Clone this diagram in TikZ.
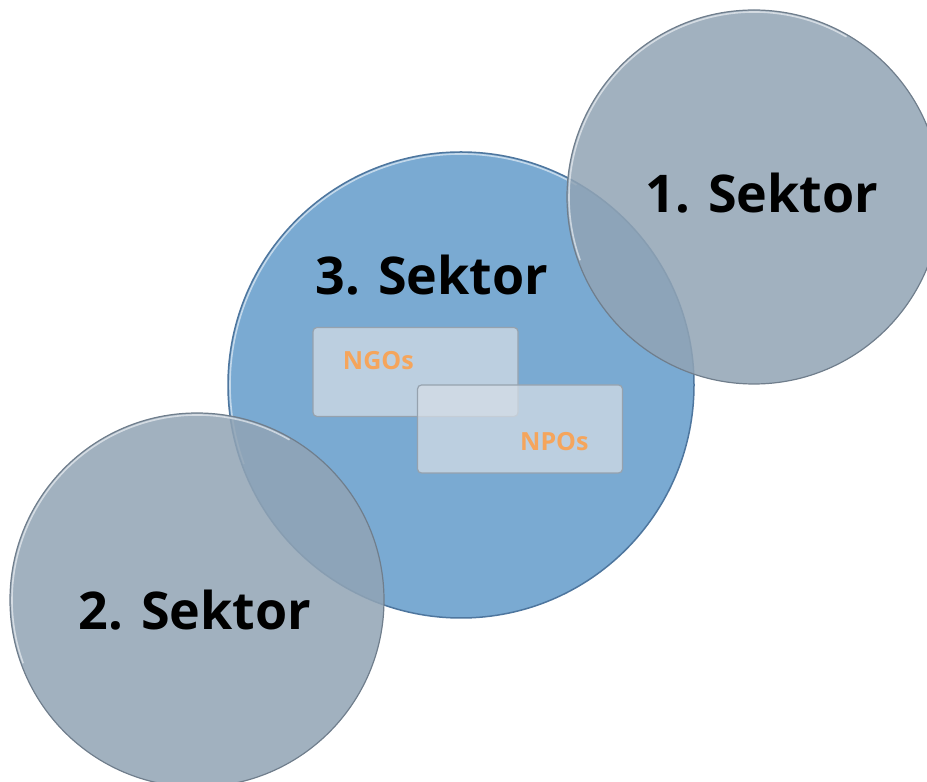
\documentclass[tikz,border=0pt]{standalone}
\usepackage{fontspec}
\setmainfont{Open Sans}
\usetikzlibrary{positioning}

\definecolor{sectorblue}{RGB}{122,170,210}
\definecolor{bluerim}{RGB}{78,118,158}
\definecolor{sectorgray}{RGB}{145,164,181}
\definecolor{grayrim}{RGB}{112,126,140}
\definecolor{boxfill}{RGB}{214,222,230}
\definecolor{boxrim}{RGB}{150,162,174}
\definecolor{orgorange}{RGB}{245,165,92}

\begin{document}
\begin{tikzpicture}[x=1pt,y=1pt,
  sector/.style={circle,inner sep=0pt,minimum size=374pt,fill=sectorgray,fill opacity=0.86,draw=grayrim,line width=1.2pt},
  rimlight/.style={white,opacity=0.55,line width=1.6pt},
  orgbox/.style={rectangle,rounded corners=4pt,minimum width=205pt,minimum height=89pt,fill=boxfill,fill opacity=0.72,draw=boxrim,line width=1.2pt},
  sectorlabel/.style={anchor=base,font=\fontsize{52}{60}\selectfont\bfseries},
  orglabel/.style={text=orgorange,font=\fontsize{25}{30}\selectfont\bfseries}]
\useasboundingbox (0,0) rectangle (927,782);
% third sector
\node[circle,inner sep=0pt,minimum size=466pt,fill=sectorblue,draw=bluerim,line width=1.5pt] (s3) at (461,397) {};
\draw[rimlight] ([shift={(60:231)}]s3.center) arc[start angle=60,end angle=200,radius=231];
\node[orgbox] (ngo) at (415.5,410) {};
\node[orgbox,minimum height=88pt] (npo) at (520,353) {};
\node[orglabel,anchor=base west] (ngotext) at ([shift={(27,-43)}]ngo.north west) {NGOs};
\node[orglabel,anchor=base east] (npotext) at ([shift={(-31,23)}]npo.south east) {NPOs};
% first and second sector
\node[sector] (s1) at (754,585) {};
\draw[rimlight] ([shift={(60:185)}]s1.center) arc[start angle=60,end angle=200,radius=185];
\node[sector] (s2) at (197,182) {};
\draw[rimlight] ([shift={(60:185)}]s2.center) arc[start angle=60,end angle=200,radius=185];
% labels
\node[sectorlabel] (l1) at (762,569) {1. Sektor};
\node[sectorlabel] (l3) at (432,487) {3. Sektor};
\node[sectorlabel] (l2) at (195,152) {2. Sektor};
\end{tikzpicture}
\end{document}
